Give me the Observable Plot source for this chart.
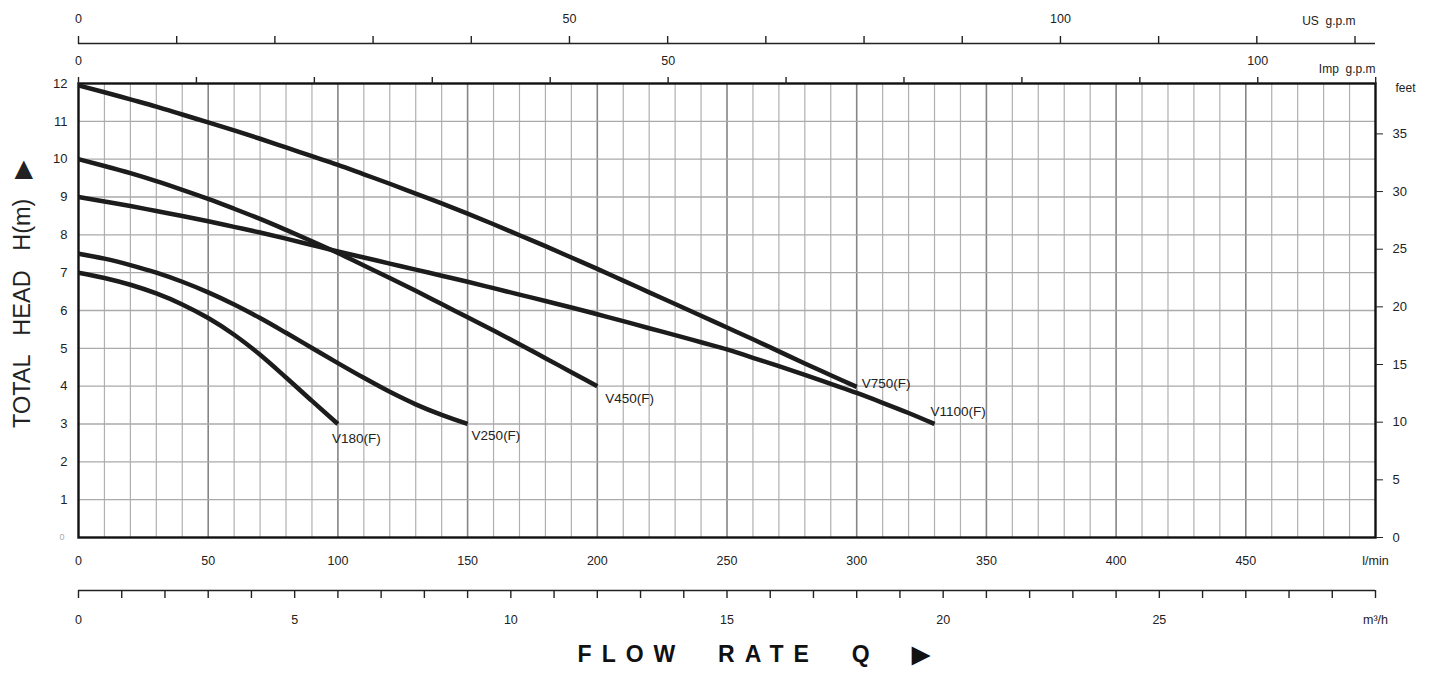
<!DOCTYPE html>
<html>
<head>
<meta charset="utf-8">
<script src="https://cdn.jsdelivr.net/npm/d3@7"></script>
<script src="https://cdn.jsdelivr.net/npm/@observablehq/plot@0.6"></script>
<style>
  html, body { margin: 0; padding: 0; background: #ffffff; }
  #chart svg { display: block; }
</style>
</head>
<body>
<div id="chart"></div>
<script>
// ---- Data ----
const flowV180 = [0, 10, 20, 30, 40, 50, 60, 70, 80, 90, 100];
const headV180 = [7.0, 6.86, 6.68, 6.45, 6.16, 5.8, 5.36, 4.83, 4.23, 3.61, 3.0];

const flowV250 = [0, 10, 20, 30, 40, 50, 60, 70, 80, 90, 100, 110, 120, 130, 140, 150];
const headV250 = [7.5, 7.37, 7.2, 7.0, 6.76, 6.48, 6.16, 5.8, 5.41, 5.01, 4.61, 4.22, 3.85, 3.52, 3.24, 3.0];

const flowV450 = [0, 10, 20, 30, 40, 50, 60, 70, 80, 90, 100, 110, 120, 130, 140, 150, 160, 170, 180, 190, 200];
const headV450 = [10.0, 9.82, 9.63, 9.42, 9.19, 8.95, 8.69, 8.42, 8.13, 7.83, 7.52, 7.19, 6.86, 6.52, 6.17, 5.82, 5.47, 5.11, 4.74, 4.37, 4.0];

const flowV750 = [0, 10, 20, 30, 40, 50, 60, 70, 80, 90, 100, 110, 120, 130, 140, 150, 160, 170, 180, 190, 200, 210, 220, 230, 240, 250, 260, 270, 280, 290, 300];
const headV750 = [11.95, 11.77, 11.58, 11.39, 11.18, 10.97, 10.76, 10.54, 10.31, 10.08, 9.85, 9.6, 9.35, 9.09, 8.83, 8.56, 8.28, 7.99, 7.7, 7.4, 7.1, 6.79, 6.48, 6.17, 5.86, 5.55, 5.24, 4.92, 4.6, 4.29, 3.98];

const flowV1100 = [0, 10, 20, 30, 40, 50, 60, 70, 80, 90, 100, 110, 120, 130, 140, 150, 160, 170, 180, 190, 200, 210, 220, 230, 240, 250, 260, 270, 280, 290, 300, 310, 320, 330];
const headV1100 = [9.0, 8.88, 8.76, 8.63, 8.5, 8.36, 8.21, 8.06, 7.9, 7.73, 7.56, 7.4, 7.24, 7.08, 6.92, 6.76, 6.59, 6.42, 6.25, 6.08, 5.9, 5.72, 5.53, 5.35, 5.16, 4.97, 4.75, 4.53, 4.3, 4.06, 3.82, 3.56, 3.29, 3.0];

const modelNames = ["V180(F)", "V250(F)", "V450(F)", "V750(F)", "V1100(F)"];

// Axis ticks
const lpmLabelTicks = [0, 50, 100, 150, 200, 250, 300, 350, 400, 450, 500];
const lpmGridMinor = [10, 20, 30, 40, 60, 70, 80, 90, 110, 120, 130, 140, 160, 170, 180, 190, 210, 220, 230, 240, 260, 270, 280, 290, 310, 320, 330, 340, 360, 370, 380, 390, 410, 420, 430, 440, 460, 470, 480, 490];
const lpmGridMajor = [50, 100, 150, 200, 250, 300, 350, 400, 450];
const headTicks = [1, 2, 3, 4, 5, 6, 7, 8, 9, 10, 11, 12];
const headGrid = [1, 2, 3, 4, 5, 6, 7, 8, 9, 10, 11];
const feetTicks = [0, 5, 10, 15, 20, 25, 30, 35];
const usGpmTicks = [0, 10, 20, 30, 40, 50, 60, 70, 80, 90, 100, 110, 120, 130];
const usGpmLabels = [0, 50, 100];
const impGpmTicks = [0, 10, 20, 30, 40, 50, 60, 70, 80, 90, 100, 110];
const impGpmLabels = [0, 50, 100];
const m3hTicks = [0, 1, 2, 3, 4, 5, 6, 7, 8, 9, 10, 11, 12, 13, 14, 15, 16, 17, 18, 19, 20, 21, 22, 23, 24, 25, 26, 27, 28, 29, 30];
const m3hLabels = [0, 5, 10, 15, 20, 25, 30];

// Unit conversions
const US_GAL = 3.785411784;   // l per US gallon
const IMP_GAL = 4.54609;      // l per Imp gallon
const M3H = 1000 / 60;        // l/min per m3/h
const FT = 0.3048;            // m per foot

// ---- Build table ----
const series = [
  [modelNames[0], flowV180, headV180],
  [modelNames[1], flowV250, headV250],
  [modelNames[2], flowV450, headV450],
  [modelNames[3], flowV750, headV750],
  [modelNames[4], flowV1100, headV1100]
];
const rows = series.flatMap(([name, f, h]) => f.map((q, i) => ({model: name, flow: q, head: h[i]})));
const ends = series.map(([name, f, h]) => ({model: name, flow: f[f.length - 1], head: h[h.length - 1]}));

const labelStyle = {
  "V180(F)":  {dx: -6, dy: 15, textAnchor: "start"},
  "V250(F)":  {dx: 4,  dy: 12, textAnchor: "start"},
  "V450(F)":  {dx: 8,  dy: 13, textAnchor: "start"},
  "V750(F)":  {dx: 5,  dy: -3, textAnchor: "start"},
  "V1100(F)": {dx: -4, dy: -12, textAnchor: "start"}
};

const FONT = "'Liberation Sans', Arial, Helvetica, sans-serif";
const Y_TITLE = "TOTAL   HEAD   H(m)   \u25B6";
const X_TITLE = "FLOW  RATE  Q  \u25B6";

const plot = Plot.plot({
  width: 1437,
  height: 675,
  marginLeft: 78,
  marginRight: 62,
  marginTop: 83,
  marginBottom: 138,
  style: {fontFamily: FONT, fontSize: "13px", color: "#222", background: "#fff"},
  x: {domain: [0, 500], axis: null},
  y: {domain: [0, 12], axis: null},
  marks: [
    // grid
    Plot.ruleX(lpmGridMinor, {stroke: "#b0b0b0", strokeWidth: 1.2}),
    Plot.ruleX(lpmGridMajor, {stroke: "#858585", strokeWidth: 1.6}),
    Plot.ruleY(headGrid, {stroke: "#aaaaaa", strokeWidth: 1.3}),
    Plot.frame({stroke: "#111", strokeWidth: 2.4}),

    // curves
    Plot.line(rows, {x: "flow", y: "head", z: "model", stroke: "#1c1c1c", strokeWidth: 4.5, curve: "monotone-x", strokeLinecap: "butt"}),

    // curve labels
    ...modelNames.map(name => Plot.text(ends.filter(d => d.model === name), {
      x: "flow", y: "head", text: "model",
      fontSize: 13.5, fill: "#222", ...labelStyle[name]
    })),

    // left axis (metres)
    Plot.axisY(headTicks, {anchor: "left", tickSize: 0, tickPadding: 11, fontSize: 13, label: null}),
    Plot.axisY([0], {anchor: "left", tickSize: 0, tickPadding: 14, fontSize: 9, fill: "#aaa", label: null}),
    // right axis (feet)
    Plot.axisY(feetTicks.map(f => f * FT), {anchor: "right", tickSize: 7, tickPadding: 10, fontSize: 13, tickFormat: d => Math.round(d / FT), label: null}),
    Plot.text(["feet"], {frameAnchor: "top-right", dx: 20, dy: 0, textAnchor: "start", fontSize: 12}),

    // bottom axis l/min
    Plot.axisX(lpmLabelTicks, {anchor: "bottom", tickSize: 0, tickPadding: 19, fontSize: 12.5, tickFormat: d => d === 500 ? "l/min" : d, label: null}),

    // m3/h axis
    Plot.ruleY([0], {dy: 53, stroke: "#222", strokeWidth: 1.6}),
    Plot.axisX(m3hTicks.map(v => v * M3H), {anchor: "bottom", dy: 53, tickSize: 8, stroke: "#222", strokeWidth: 1.4, tickFormat: () => "", label: null}),
    Plot.axisX(m3hLabels.map(v => v * M3H), {anchor: "bottom", dy: 53, tickSize: 0, tickPadding: 25, fontSize: 12.5,
      tickFormat: d => { const v = Math.round(d / M3H); return v === 30 ? "m³/h" : v; }, label: null}),

    // Imp g.p.m axis (on the frame top)
    Plot.axisX(impGpmTicks.map(v => v * IMP_GAL), {anchor: "top", tickSize: 7, stroke: "#222", strokeWidth: 1.4, tickFormat: () => "", label: null}),
    Plot.axisX(impGpmLabels.map(v => v * IMP_GAL), {anchor: "top", tickSize: 0, tickPadding: 19, fontSize: 12.5, tickFormat: d => Math.round(d / IMP_GAL), label: null}),
    Plot.text(["Imp  g.p.m"], {frameAnchor: "top-right", dy: -19, textAnchor: "end", fontSize: 12}),

    // US g.p.m axis
    Plot.ruleY([12], {dy: -40, stroke: "#222", strokeWidth: 1.6}),
    Plot.axisX(usGpmTicks.map(v => v * US_GAL), {anchor: "top", dy: -40, tickSize: 8, stroke: "#222", strokeWidth: 1.4, tickFormat: () => "", label: null}),
    Plot.axisX(usGpmLabels.map(v => v * US_GAL), {anchor: "top", dy: -40, tickSize: 0, tickPadding: 21, fontSize: 12.5, tickFormat: d => Math.round(d / US_GAL), label: null}),
    Plot.text(["US  g.p.m"], {frameAnchor: "top-right", dx: -20, dy: -67, textAnchor: "end", fontSize: 12}),

    // axis titles
    Plot.text([Y_TITLE], {frameAnchor: "left", rotate: -90, textAnchor: "middle", dx: -56, dy: -16, fontSize: 23.5, fill: "#222"}),
    Plot.text([X_TITLE], {frameAnchor: "bottom", textAnchor: "middle", dx: 32, dy: 124, fontSize: 23, fontWeight: "bold", fill: "#111"})
  ]
});

document.getElementById("chart").appendChild(plot);

// letter-spacing for the flow-rate title
d3.select(plot).selectAll("text").filter(function () { return this.textContent === X_TITLE; })
  .attr("letter-spacing", "10px");
</script>
</body>
</html>
